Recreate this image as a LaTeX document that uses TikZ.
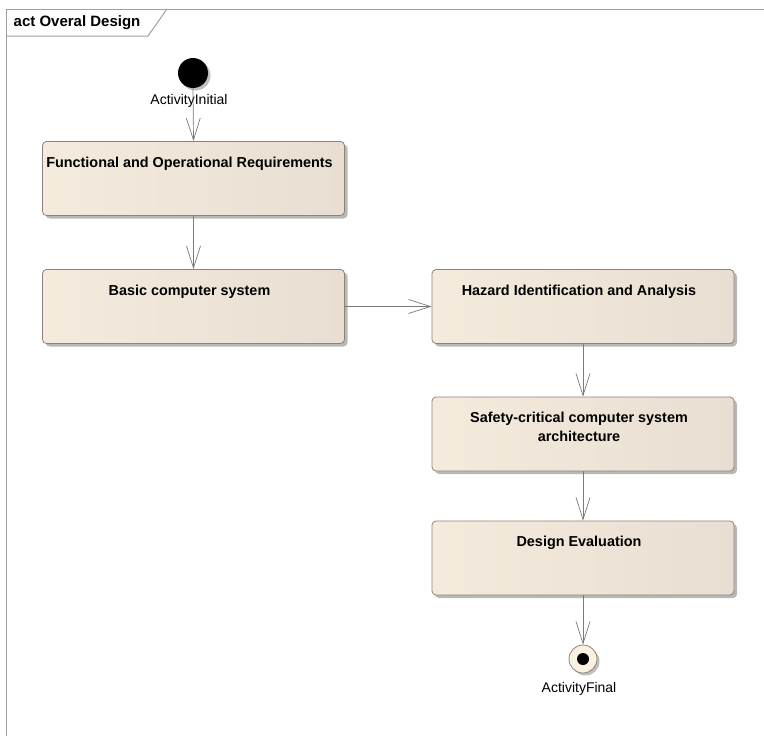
\documentclass[tikz,border=0pt]{standalone}
\usepackage{fontspec}
\setmainfont{Liberation Sans}
\usetikzlibrary{arrows.meta,shadows}

\definecolor{edgegray}{HTML}{7A7A7A}
\definecolor{framegray}{HTML}{A0A0A0}
\definecolor{boxborder}{HTML}{8C8477}
\definecolor{boxleft}{HTML}{F5EBDD}
\definecolor{boxmid}{HTML}{FBF1E3}
\definecolor{boxright}{HTML}{E8DED1}

\tikzset{
  action/.style={draw=boxborder, line width=0.8pt, rounded corners=4pt,
    left color=boxleft, middle color=boxmid, right color=boxright,
    minimum width=302pt, minimum height=74pt, inner sep=0pt,
    drop shadow={shadow xshift=3pt, shadow yshift=-3pt, fill=black, opacity=0.28}},
  title/.style={anchor=north, inner sep=0pt, yshift=-15.5pt, xshift=-4pt,
    font=\fontsize{14.4}{19}\selectfont\bfseries, align=center},
  flow/.style={draw=edgegray, line width=0.7pt,
    -{Straight Barb[length=22pt, width=14pt, line width=0.7pt]}},
  caption/.style={font=\fontsize{14}{16}\selectfont, inner sep=0pt},
}

\begin{document}
\begin{tikzpicture}[x=1pt, y=-1pt]
  \useasboundingbox (0,0) rectangle (764,736);
  \fill[white] (0,0) rectangle (764,736);

  % diagram frame with its name tab
  \draw[framegray, line width=1pt] (764,9) -- (6,9) -- (6,736);
  \draw[framegray, line width=1pt] (6,36) -- (148,36) -- (167,9);
  \node[anchor=west, inner sep=0pt, font=\fontsize{15}{17}\selectfont\bfseries]
    (frametitle) at (13.5,22.5) {act Overal Design};

  % start and end of the activity
  \node[circle, fill=black, minimum size=30pt, inner sep=0pt,
    drop shadow={shadow xshift=2.5pt, shadow yshift=-2.5pt, fill=black, opacity=0.25}]
    (init) at (193,73) {};
  \node[caption] (initlbl) at (189,100.5) {ActivityInitial};

  \node[circle, draw=boxborder, line width=0.8pt, fill=boxmid, minimum size=28pt, inner sep=0pt,
    drop shadow={shadow xshift=2.5pt, shadow yshift=-2.5pt, fill=black, opacity=0.25}]
    (final) at (583,659) {};
  \fill[black] (final.center) circle (6pt);
  \node[caption] (finallbl) at (579,689) {ActivityFinal};

  % actions
  \node[action, label={[title]north:Functional and Operational Requirements}]
    (req) at (193.5,178.5) {};
  \node[action, label={[title]north:Basic computer system}]
    (basic) at (193.5,306.5) {};
  \node[action, label={[title]north:Hazard Identification and Analysis}]
    (hazard) at (583,306.5) {};
  \node[action, label={[title]north:Safety-critical computer system\\architecture}]
    (arch) at (583,434) {};
  \node[action, label={[title]north:Design Evaluation}]
    (eval) at (583,558) {};

  % control flows
  \draw[flow] (init.south) -- (req.north);
  \draw[flow] (req.south) -- (basic.north);
  \draw[flow] (basic.east) -- (hazard.west);
  \draw[flow] (hazard.south) -- (arch.north);
  \draw[flow] (arch.south) -- (eval.north);
  \draw[flow] (eval.south) -- (final.north);
\end{tikzpicture}
\end{document}
